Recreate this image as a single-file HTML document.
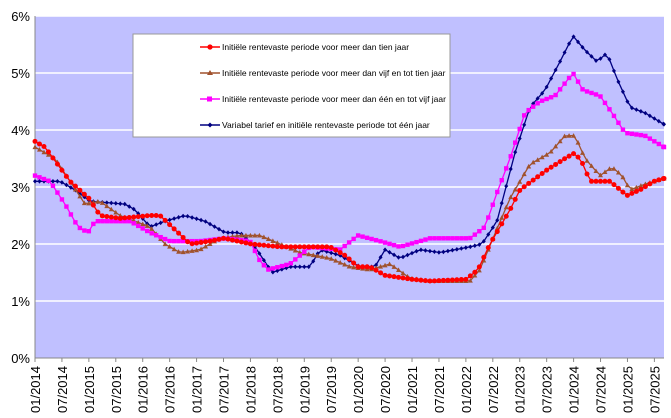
<!DOCTYPE html>
<html><head><meta charset="utf-8"><style>
body{margin:0;background:#fff;}
svg{display:block;font-family:"Liberation Sans",sans-serif;}
</style></head><body>
<svg id="s" width="671" height="418" xmlns="http://www.w3.org/2000/svg">
<rect x="35" y="16" width="629" height="342" fill="#C0C0FF"/>
<g stroke="#fff" stroke-width="1.5">
<line x1="35" x2="664" y1="16" y2="16"/><line x1="35" x2="664" y1="73" y2="73"/>
<line x1="35" x2="664" y1="130" y2="130"/><line x1="35" x2="664" y1="187" y2="187"/>
<line x1="35" x2="664" y1="244" y2="244"/><line x1="35" x2="664" y1="301" y2="301"/>
</g>
<line x1="35" x2="664" y1="358" y2="358" stroke="#888"/>
<line x1="35" x2="35" y1="16" y2="358" stroke="#888"/>
<g font-size="13" fill="#000" text-anchor="end">
<text x="30" y="21">6%</text><text x="30" y="78">5%</text><text x="30" y="135">4%</text>
<text x="30" y="192">3%</text><text x="30" y="249">2%</text><text x="30" y="306">1%</text><text x="30" y="363">0%</text>
</g>
<g id="xt"></g>
<g id="series"></g>
<rect x="133" y="34" width="317" height="103" fill="#fff" stroke="#999"/>
<g font-size="8.5" fill="#000">
<line x1="200" x2="220" y1="47" y2="47" stroke="#f00" stroke-width="1.5"/><circle cx="210" cy="47" r="2.6" fill="#f00"/>
<text x="222" y="50">Initiële rentevaste periode voor meer dan tien jaar</text>
<line x1="200" x2="220" y1="73" y2="73" stroke="#a0522d" stroke-width="1.5"/><path d="M210 70 L213 75 L207 75Z" fill="#a0522d"/>
<text x="222" y="76">Initiële rentevaste periode voor meer dan vijf en tot tien jaar</text>
<line x1="200" x2="220" y1="99" y2="99" stroke="#f0f" stroke-width="1.5"/><rect x="207" y="96.5" width="5" height="5" fill="#f0f"/>
<text x="222" y="102">Initiële rentevaste periode voor meer dan één en tot vijf jaar</text>
<line x1="200" x2="220" y1="125" y2="125" stroke="#000080" stroke-width="1.5"/><path d="M210 122.5 L212.5 125 L210 127.5 L207.5 125Z" fill="#000080"/>
<text x="222" y="128">Variabel tarief en initiële rentevaste periode tot één jaar</text>
</g>
</svg>
<script>
var NS="http://www.w3.org/2000/svg",s=document.getElementById("series"),xt=document.getElementById("xt");
function el(t,a,p){var e=document.createElementNS(NS,t);for(var k in a)e.setAttribute(k,a[k]);(p||s).appendChild(e);return e;}
for(var i=0;i<=23;i++){var x=35+i*26.93,y=2014+Math.floor(i/2),lab=(i%2?"07/":"01/")+y;
el("line",{x1:x,x2:x,y1:358,y2:362,stroke:"#888"},xt);
var t=el("text",{transform:"translate("+(x+5)+",366) rotate(-90)","font-size":"13","text-anchor":"end"},xt);t.textContent=lab;}
var D={
red:[[35,3.8],[45,3.7],[70,3.1],[89,2.8],[100,2.5],[120,2.45],[150,2.5],[160,2.5],[175,2.25],[190,2.0],[210,2.05],[224,2.1],[251,2.0],[280,1.95],[330,1.95],[345,1.8],[358,1.6],[370,1.6],[385,1.45],[412,1.38],[430,1.35],[466,1.38],[478,1.55],[490,2.0],[510,2.6],[520,2.95],[547,3.3],[565,3.5],[575,3.6],[583,3.4],[590,3.1],[610,3.1],[627,2.85],[640,2.95],[654,3.1],[664,3.15]],
brown:[[35,3.7],[55,3.5],[70,3.1],[85,2.7],[100,2.75],[120,2.5],[150,2.3],[165,2.0],[180,1.85],[200,1.9],[220,2.1],[240,2.15],[260,2.15],[280,2.0],[300,1.85],[330,1.75],[350,1.6],[370,1.55],[390,1.65],[410,1.4],[430,1.35],[470,1.35],[480,1.55],[493,2.1],[510,2.8],[530,3.4],[550,3.6],[565,3.9],[575,3.9],[585,3.5],[600,3.2],[612,3.35],[622,3.2],[630,2.95],[645,3.05],[664,3.15]],
mag:[[35,3.2],[50,3.1],[65,2.7],[78,2.3],[88,2.2],[95,2.4],[130,2.4],[150,2.2],[170,2.05],[200,2.05],[225,2.1],[250,2.05],[260,1.7],[268,1.55],[290,1.65],[310,1.95],[340,1.9],[358,2.15],[380,2.05],[400,1.95],[430,2.1],[470,2.1],[485,2.3],[497,2.9],[510,3.5],[525,4.3],[540,4.5],[555,4.6],[573,5.0],[583,4.7],[600,4.6],[612,4.3],[625,3.95],[645,3.9],[664,3.7]],
navy:[[35,3.1],[60,3.1],[75,2.95],[90,2.75],[125,2.7],[135,2.6],[150,2.3],[165,2.4],[185,2.5],[205,2.4],[225,2.2],[240,2.2],[255,1.95],[272,1.5],[290,1.6],[310,1.6],[320,1.9],[340,1.8],[360,1.6],[375,1.6],[385,1.9],[400,1.75],[420,1.9],[440,1.85],[470,1.95],[482,2.0],[497,2.4],[515,3.6],[530,4.4],[545,4.7],[560,5.2],[573,5.65],[585,5.4],[597,5.2],[607,5.35],[617,4.9],[630,4.4],[645,4.3],[664,4.1]]};
function val(p,x){for(var i=1;i<p.length;i++)if(x<=p[i][0]){var a=p[i-1],b=p[i];return a[1]+(b[1]-a[1])*(x-a[0])/(b[0]-a[0]);}return p[p.length-1][1];}
var cfg=[["navy","#000080","d"],["brown","#a0522d","t"],["mag","#f0f","s"],["red","#f00","c"]];
cfg.forEach(function(c){var p=D[c[0]],pts=[];for(var m=0;m<=141;m++){var x=35+m*4.488;if(x>664)x=664;var v=val(p,x);pts.push([x,358-v*57]);}
el("polyline",{points:pts.map(function(q){return q.join(",")}).join(" "),fill:"none",stroke:c[1],"stroke-width":1.3});
pts.forEach(function(q){var x=q[0],y=q[1];
if(c[2]=="s")el("rect",{x:x-2.2,y:y-2.2,width:4.4,height:4.4,fill:c[1]});
else if(c[2]=="c")el("circle",{cx:x,cy:y,r:2.5,fill:c[1]});
else if(c[2]=="t")el("path",{d:"M"+x+" "+(y-2.6)+"L"+(x+2.5)+" "+(y+2)+"L"+(x-2.5)+" "+(y+2)+"Z",fill:c[1]});
else el("path",{d:"M"+x+" "+(y-2.3)+"L"+(x+2)+" "+y+"L"+x+" "+(y+2.3)+"L"+(x-2)+" "+y+"Z",fill:c[1]});});});
</script>
</body></html>
